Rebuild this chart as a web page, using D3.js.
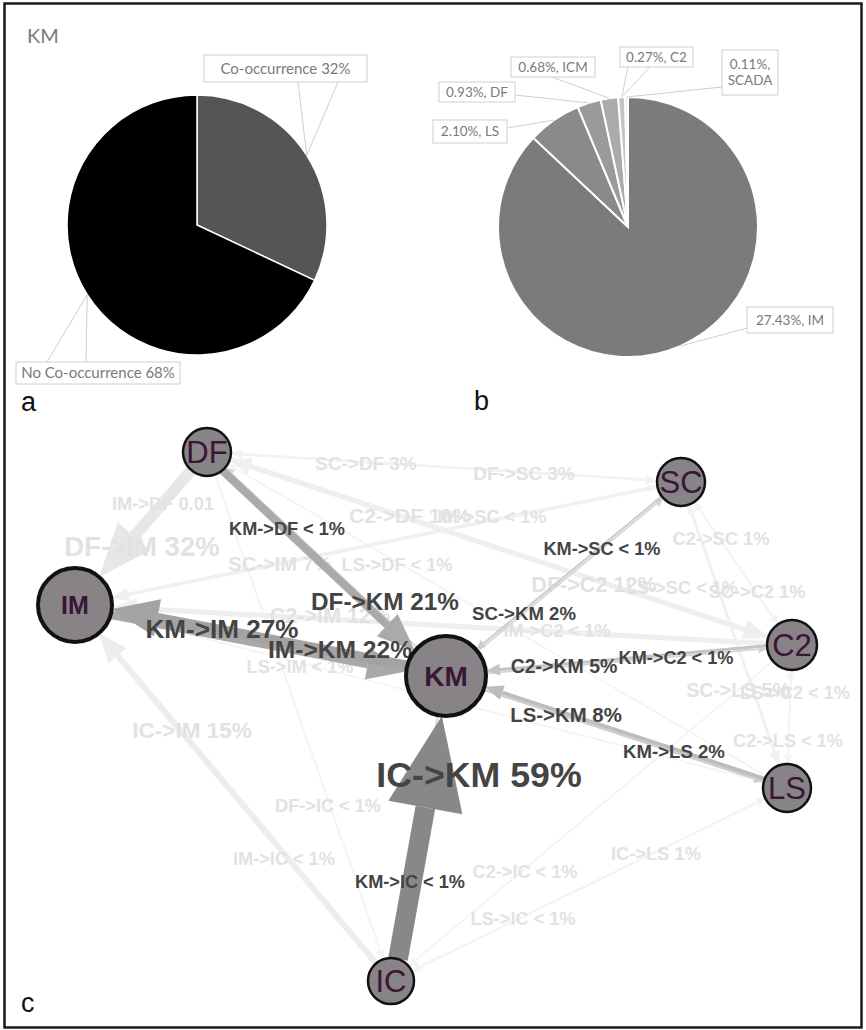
<!DOCTYPE html>
<html>
<head>
<meta charset="utf-8">
<script src="https://cdn.jsdelivr.net/npm/d3@7"></script>
<style>
  body { margin: 0; background: #fff; }
  svg { display: block; }
</style>
</head>
<body>
<svg id="fig" width="866" height="1030"></svg>
<script>
// ---- Panel a: share of KM records with a co-occurring category ----
const coCategories = ["Co-occurrence", "No Co-occurrence"];
const coValues = [32, 68];

// ---- Panel b: co-occurring categories (percent of all KM records) ----
const mixCategories = ["IM", "LS", "DF", "ICM", "C2", "SCADA"];
const mixValues = [27.43, 2.10, 0.93, 0.68, 0.27, 0.11];

// ---- Panel c: category transition network ----
const nodeNames = ["DF", "IM", "KM", "SC", "C2", "LS", "IC"];
// [from, to, percent, label]; "< 1%" is carried as 0.5
const transitions = [
  ["IC", "KM", 59, "IC->KM 59%"],
  ["KM", "IM", 27, "KM->IM 27%"],
  ["IM", "KM", 22, "IM->KM 22%"],
  ["DF", "KM", 21, "DF->KM 21%"],
  ["KM", "DF", 0.5, "KM->DF < 1%"],
  ["SC", "KM", 2, "SC->KM 2%"],
  ["KM", "SC", 0.5, "KM->SC < 1%"],
  ["C2", "KM", 5, "C2->KM 5%"],
  ["KM", "C2", 0.5, "KM->C2 < 1%"],
  ["LS", "KM", 8, "LS->KM 8%"],
  ["KM", "LS", 2, "KM->LS 2%"],
  ["KM", "IC", 0.5, "KM->IC < 1%"],
  ["DF", "IM", 32, "DF->IM 32%"],
  ["IM", "DF", 1, "IM->DF 0.01"],
  ["SC", "DF", 3, "SC->DF 3%"],
  ["DF", "SC", 3, "DF->SC 3%"],
  ["C2", "DF", 10, "C2->DF 10%"],
  ["IM", "SC", 0.5, "IM->SC < 1%"],
  ["SC", "IM", 7, "SC->IM 7%"],
  ["LS", "DF", 0.5, "LS->DF < 1%"],
  ["C2", "SC", 1, "C2->SC 1%"],
  ["DF", "C2", 12, "DF->C2 12%"],
  ["LS", "SC", 0.5, "LS->SC < 1%"],
  ["SC", "C2", 1, "SC->C2 1%"],
  ["IM", "C2", 0.5, "IM->C2 < 1%"],
  ["C2", "IM", 12, "C2->IM 12%"],
  ["LS", "IM", 0.5, "LS->IM < 1%"],
  ["IC", "IM", 15, "IC->IM 15%"],
  ["DF", "IC", 0.5, "DF->IC < 1%"],
  ["IM", "IC", 0.5, "IM->IC < 1%"],
  ["C2", "IC", 0.5, "C2->IC < 1%"],
  ["LS", "IC", 0.5, "LS->IC < 1%"],
  ["IC", "LS", 1, "IC->LS 1%"],
  ["SC", "LS", 5, "SC->LS 5%"],
  ["LS", "C2", 0.5, "LS->C2 < 1%"],
  ["C2", "LS", 0.5, "C2->LS < 1%"]
];

// ---------------- layout ----------------
const nodeLayout = {
  DF: { x: 207, y: 452, r: 24 },
  IM: { x: 75,  y: 605, r: 37 },
  KM: { x: 446, y: 676, r: 40 },
  SC: { x: 681, y: 482, r: 24 },
  C2: { x: 792, y: 645, r: 25 },
  LS: { x: 787, y: 788, r: 24 },
  IC: { x: 391, y: 981, r: 23 }
};
// label anchor (centre x, baseline y) per transition label
const labelAt = {
  "IC->KM 59%": [479, 787], "KM->IM 27%": [222, 638], "IM->KM 22%": [340, 658],
  "DF->KM 21%": [385, 610], "KM->DF < 1%": [287, 535], "SC->KM 2%": [524, 620],
  "KM->SC < 1%": [602, 555], "C2->KM 5%": [564, 673], "KM->C2 < 1%": [676, 664],
  "LS->KM 8%": [566, 722], "KM->LS 2%": [674, 758], "KM->IC < 1%": [410, 888],
  "DF->IM 32%": [142, 556], "IM->DF 0.01": [163, 510], "SC->DF 3%": [366, 470],
  "DF->SC 3%": [524, 480], "C2->DF 10%": [410, 523], "IM->SC < 1%": [492, 523],
  "SC->IM 7%": [280, 571], "LS->DF < 1%": [397, 571], "C2->SC 1%": [721, 545],
  "DF->C2 12%": [594, 592], "LS->SC < 1%": [682, 594], "SC->C2 1%": [757, 598],
  "IM->C2 < 1%": [557, 637], "C2->IM 12%": [330, 623], "LS->IM < 1%": [300, 673],
  "IC->IM 15%": [192, 738], "DF->IC < 1%": [328, 812], "IM->IC < 1%": [284, 865],
  "C2->IC < 1%": [525, 878], "LS->IC < 1%": [523, 925], "IC->LS 1%": [656, 860],
  "SC->LS 5%": [738, 697], "LS->C2 < 1%": [795, 699], "C2->LS < 1%": [788, 747]
};

const svg = d3.select("#fig");
const LABEL_FONT = "Lato, 'Open Sans', sans-serif";
const ARIAL = "'Liberation Sans', Arial, sans-serif";

svg.append("rect").attr("x", 0).attr("y", 0).attr("width", 866).attr("height", 1030).attr("fill", "#fff");

// outer frame
svg.append("rect")
  .attr("x", 4.5).attr("y", 3.5).attr("width", 857).attr("height", 1024)
  .attr("fill", "none").attr("stroke", "#1a1a1a").attr("stroke-width", 2.5);

// ---------- shared pie helpers ----------
const pieLayout = d3.pie().sort(null).value(d => d);
const R = 130;
const arcGen = d3.arc().innerRadius(0).outerRadius(R);
function edgePoint(slice, cx, cy) {
  const a = (slice.startAngle + slice.endAngle) / 2;
  return [cx + R * Math.sin(a), cy - R * Math.cos(a)];
}
function labelBox(g, lines, x, y, w, h, size) {
  g.append("rect").attr("x", x).attr("y", y).attr("width", w).attr("height", h)
    .attr("fill", "#fff").attr("stroke", "#cfcfcf").attr("stroke-width", 1);
  const lh = size * 1.15;
  const top = y + h / 2 - (lines.length - 1) * lh / 2;
  lines.forEach((t, i) => {
    g.append("text").attr("x", x + w / 2).attr("y", top + i * lh)
      .attr("dy", "0.35em").attr("text-anchor", "middle")
      .attr("font-family", LABEL_FONT).attr("font-size", size)
      .attr("fill", "#7a7a7a").text(t);
  });
}

// ---------- panel a ----------
{
  const cx = 197, cy = 225;
  const g = svg.append("g");
  g.append("text").attr("x", 27).attr("y", 43).attr("font-family", LABEL_FONT)
    .attr("font-size", 20).attr("fill", "#7a7a7a").text("KM");
  const slices = pieLayout(coValues);
  const fills = ["#555555", "#000000"];
  g.selectAll("path.slice").data(slices).join("path")
    .attr("transform", `translate(${cx},${cy})`)
    .attr("d", arcGen).attr("fill", (d, i) => fills[i])
    .attr("stroke", "#fff").attr("stroke-width", 1.5);

  const boxes = [
    { x: 204, y: 55, w: 163, h: 27, attach: [[298, 82], [338, 82]] },
    { x: 16, y: 362, w: 164, h: 22, attach: [[47, 362], [86, 362]] }
  ];
  slices.forEach((s, i) => {
    const p = edgePoint(s, cx, cy);
    boxes[i].attach.forEach(a => {
      g.append("line").attr("x1", a[0]).attr("y1", a[1]).attr("x2", p[0]).attr("y2", p[1])
        .attr("stroke", "#cfcfcf").attr("stroke-width", 1);
    });
    labelBox(g, [`${coCategories[i]} ${coValues[i]}%`], boxes[i].x, boxes[i].y, boxes[i].w, boxes[i].h, 15);
  });
  g.append("text").attr("x", 21).attr("y", 411).attr("font-family", ARIAL)
    .attr("font-size", 27).attr("fill", "#111").text("a");
}

// ---------- panel b ----------
{
  const cx = 628, cy = 227;
  const g = svg.append("g");
  const slices = pieLayout(mixValues);
  const fills = ["#7b7b7b", "#8a8a8a", "#9a9a9a", "#ababab", "#c4c4c4", "#e2e2e2"];
  g.selectAll("path.slice").data(slices).join("path")
    .attr("transform", `translate(${cx},${cy})`)
    .attr("d", arcGen).attr("fill", (d, i) => fills[i])
    .attr("stroke", "#fff").attr("stroke-width", 2);

  const boxes = [
    { x: 747, y: 307, w: 86, h: 26, attach: [[747, 328]] },
    { x: 433, y: 120, w: 74, h: 23, attach: [[507, 128]] },
    { x: 439, y: 82, w: 76, h: 20, attach: [[515, 95]] },
    { x: 511, y: 57, w: 84, h: 20, attach: [[552, 77]] },
    { x: 620, y: 47, w: 73, h: 20, attach: [[628, 67], [650, 67]] },
    { x: 722, y: 50, w: 56, h: 45, attach: [[722, 87]] }
  ];
  slices.forEach((s, i) => {
    const p = edgePoint(s, cx, cy);
    boxes[i].attach.forEach(a => {
      g.append("line").attr("x1", a[0]).attr("y1", a[1]).attr("x2", p[0]).attr("y2", p[1])
        .attr("stroke", "#cfcfcf").attr("stroke-width", 1);
    });
    const txt = `${mixValues[i].toFixed(2)}%, ${mixCategories[i]}`;
    const lines = mixCategories[i] === "SCADA" ? [`${mixValues[i].toFixed(2)}%,`, mixCategories[i]] : [txt];
    labelBox(g, lines, boxes[i].x, boxes[i].y, boxes[i].w, boxes[i].h, 13.5);
  });
  g.append("text").attr("x", 474).attr("y", 410).attr("font-family", ARIAL)
    .attr("font-size", 27).attr("fill", "#111").text("b");
}

// ---------- panel c ----------
{
  const g = svg.append("g");
  const edges = transitions.map(([from, to, value, label]) => ({ from, to, value, label,
    hub: from === "KM" || to === "KM" }));
  const pairKey = (a, b) => a + "|" + b;
  const present = new Set(edges.map(e => pairKey(e.from, e.to)));

  const widthScale = d3.scaleLinear().domain([0, 59]).range([1.5, 19.8]);
  const hubColor = d3.scaleSqrt().domain([0, 59]).range(["#dcdcdc", "#888888"]);
  const faintColor = d3.scaleLinear().domain([0, 32]).range(["#f3f3f3", "#e7e7e7"]);
  const fontScale = d3.scaleLinear().domain([0, 59]).range([18, 35.7]);

  edges.forEach(e => {
    const s = nodeLayout[e.from], t = nodeLayout[e.to];
    const dx = t.x - s.x, dy = t.y - s.y, L = Math.hypot(dx, dy);
    const ux = dx / L, uy = dy / L, nx = -uy, ny = ux;
    const w = widthScale(e.value);
    // opposite KM links are pulled slightly apart; the rest share one track
    const off = (e.hub && present.has(pairKey(e.to, e.from))) ? Math.min(3, 0.3 * w + 0.6) : 0;
    const headLen = Math.max(9, 4.7 * w), headHalf = Math.max(4.5, 1.9 * w);
    const sx = s.x + ux * s.r + nx * off, sy = s.y + uy * s.r + ny * off;
    const tx = t.x - ux * t.r + nx * off, ty = t.y - uy * t.r + ny * off;
    const bx = tx - ux * headLen, by = ty - uy * headLen;
    Object.assign(e, { sx, sy, tx, ty, bx, by, nx, ny, w, headHalf });
  });

  function drawEdges(list, colorOf) {
    const eg = g.append("g");
    list.forEach(e => {
      const c = colorOf(e);
      eg.append("line").attr("x1", e.sx).attr("y1", e.sy).attr("x2", e.bx).attr("y2", e.by)
        .attr("stroke", c).attr("stroke-width", e.w);
      eg.append("path")
        .attr("d", d3.line()([[e.tx, e.ty],
          [e.bx + e.nx * e.headHalf, e.by + e.ny * e.headHalf],
          [e.bx - e.nx * e.headHalf, e.by - e.ny * e.headHalf]]) + "Z")
        .attr("fill", c);
    });
  }
  function drawLabels(list, color) {
    g.append("g").selectAll("text").data(list).join("text")
      .attr("x", d => labelAt[d.label][0]).attr("y", d => labelAt[d.label][1])
      .attr("text-anchor", "middle").attr("font-family", ARIAL).attr("font-weight", "bold")
      .attr("font-size", d => fontScale(d.value)).attr("fill", color).text(d => d.label);
  }

  const faint = edges.filter(e => !e.hub);
  const hub = edges.filter(e => e.hub);
  drawEdges(faint.slice().sort((a, b) => a.value - b.value), e => faintColor(e.value));
  drawLabels(faint, "#e2e2e2");
  drawEdges(hub.slice().sort((a, b) => a.value - b.value), e => hubColor(e.value));
  drawLabels(hub, "#444444");

  const ng = g.append("g").selectAll("g").data(nodeNames).join("g")
    .attr("transform", d => `translate(${nodeLayout[d].x},${nodeLayout[d].y})`);
  ng.append("circle").attr("r", d => nodeLayout[d].r)
    .attr("fill", "#878387").attr("stroke", "#111")
    .attr("stroke-width", d => (d === "KM" || d === "IM") ? 4 : 2.5);
  ng.append("text").attr("text-anchor", "middle").attr("dy", "0.36em")
    .attr("font-family", ARIAL)
    .attr("font-weight", d => (d === "KM" || d === "IM") ? "bold" : "normal")
    .attr("font-size", d => d === "KM" ? 28 : d === "IM" ? 25 : 31)
    .attr("fill", "#3a1636").text(d => d);

  g.append("text").attr("x", 21).attr("y", 1012).attr("font-family", ARIAL)
    .attr("font-size", 27).attr("fill", "#111").text("c");
}
</script>
</body>
</html>
